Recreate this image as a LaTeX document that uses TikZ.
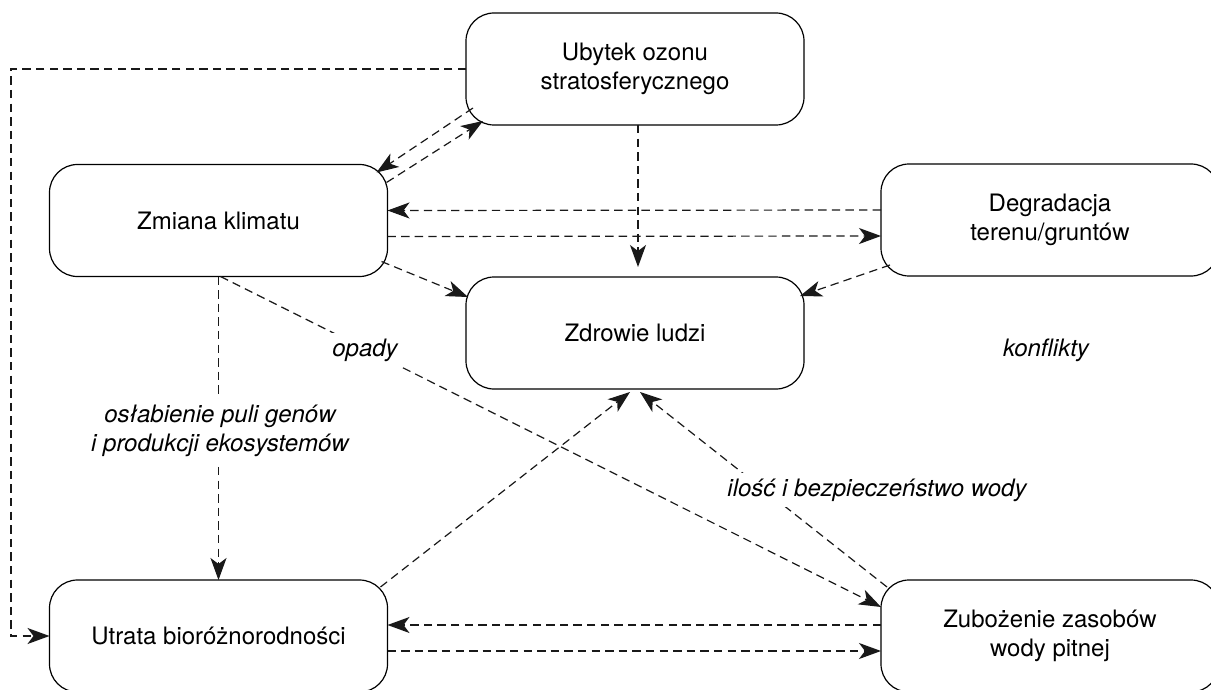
\documentclass[tikz,border=0pt]{standalone}
\usepackage{fontspec}
\setmainfont{TeX Gyre Heros}
\usepackage{tikz}
\tikzset{
  every node/.style = {
    inner sep = 0pt,
    outer sep = 0pt
  }
}
\usetikzlibrary{
arrows.meta,
backgrounds
}

\begin{document}
\begin{tikzpicture}[
        x = 0.5pt,
        y = -0.5pt,
        topic box/.style={
          draw,
          line width = 0.6pt,
          rounded corners = 14pt,
          minimum width = 169pt,
          minimum height = 56pt,
          align = center,
          font = \fontsize{12}{14.5}\selectfont,
        },
        link/.style={
          draw = black!90,
          line width = 0.6pt,
          dash pattern = on 4.2pt off 2.6pt,
          -{Stealth[length=11pt,width=8pt,inset=3pt]},
        },
        link label/.style={
          fill = white,
          inner sep = 3pt,
          align = center,
          font = \fontsize{12}{14.5}\selectfont\itshape,
        },
        ]
        \path[fill=white, use as bounding box] (0,0) rectangle (1211,690);
        \clip (0,0) rectangle (1211,690);

        \node[topic box] (ozon) at (635,69) {Ubytek ozonu\\stratosferycznego};
        \node[topic box] (klimat) at (218.5,220.5) {Zmiana klimatu};
        \node[topic box] (degrad) at (1050,220) {Degradacja\\terenu/gruntów};
        \node[topic box] (zdrowie) at (635,333) {Zdrowie ludzi};
        \node[topic box] (bioroz) at (218.5,636) {Utrata bioróżnorodności};
        \node[topic box] (woda) at (1050,636) {Zubożenie zasobów\\wody pitnej};
        \coordinate (lewy) at (11,69);

        \draw[link] ([shift={(7,-17)}]ozon.south west) -- ([shift={(-11,8)}]klimat.north east);
        \draw[link] ([shift={(-1,18)}]klimat.north east) -- ([shift={(17,-4)}]ozon.south west);
        \draw[link] ([yshift=5pt]degrad.west) -- ([yshift=5pt]klimat.east);
        \draw[link] ([yshift=-8pt]klimat.east) -- ([yshift=-8pt]degrad.west);
        \draw[link] ([shift={(-6,-15)}]klimat.south east) -- ([shift={(2,20)}]zdrowie.north west);
        \draw[link] ([xshift=1.5pt]ozon.south) -- ([xshift=1.5pt,yshift=5pt]zdrowie.north);
        \draw[link] ([shift={(9,-11)}]degrad.south west) -- ([shift={(-4,19)}]zdrowie.north east);
        \draw[link] (klimat.south) -- (bioroz.north);
        \draw[link] ([xshift=1pt]klimat.south) -- ([yshift=14.5pt]woda.west);
        \draw[link] ([shift={(-7,7)}]bioroz.north east) -- ([shift={(-5,3)}]zdrowie.south);
        \draw[link] ([shift={(6,7)}]woda.north west) -- ([shift={(5,3)}]zdrowie.south);
        \draw[link] ([yshift=5.5pt]woda.west) -- ([yshift=5.5pt]bioroz.east);
        \draw[link] ([yshift=-7.5pt]bioroz.east) -- ([yshift=-7.5pt]woda.west);
        \draw[link] (ozon.west) -- (ozon.west -| lewy) |- (bioroz.west);

        \node[link label] (lbl-geny) at (220,431) {osłabienie puli genów\\i produkcji ekosystemów};
        \node[link label] (lbl-opady) at (365,350) {opady};
        \node[link label] (lbl-woda) at (877,490) {ilość i bezpieczeństwo wody};
        \node[link label, fill=none] (lbl-konflikty) at (1046,350) {konflikty};
      \end{tikzpicture}
\end{document}
